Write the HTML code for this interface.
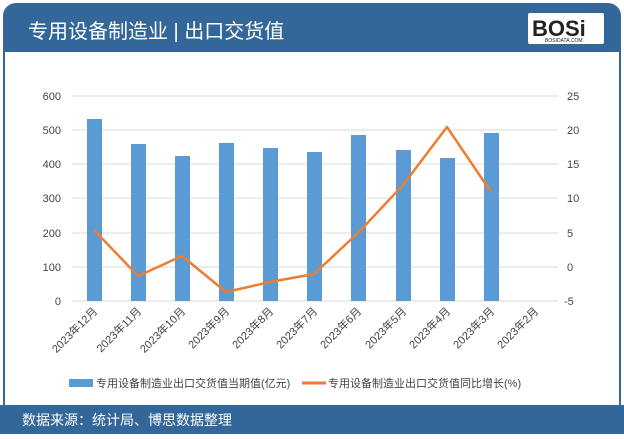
<!DOCTYPE html><html><head><meta charset="utf-8"><style>
body{margin:0;width:624px;height:434px;background:#fff;overflow:hidden;font-family:"Liberation Sans","Noto Sans CJK SC",sans-serif}
</style></head><body>
<svg width="624" height="434" xmlns="http://www.w3.org/2000/svg" font-family="Liberation Sans, Noto Sans CJK SC, sans-serif">
<rect x="0" y="0" width="624" height="434" fill="#fff"/>
<rect x="4" y="4" width="616" height="426" rx="12" fill="#fff" stroke="#3a679a" stroke-width="2"/>
<path d="M4 52 V16 A12 12 0 0 1 16 4 H608 A12 12 0 0 1 620 16 V52 Z" fill="#336699"/>
<text x="28" y="38" font-size="20" fill="#fff">专用设备制造业 | 出口交货值</text>
<rect x="528" y="13" width="76" height="31" fill="#fff" rx="2"/>
<text x="532" y="36" font-size="22" font-weight="bold" fill="#222">BOSi</text>
<text x="545" y="42" font-size="5" fill="#222">BOSIDATA.COM</text>
<rect x="0" y="405" width="624" height="29" fill="#336699"/>
<text x="22" y="425" font-size="14" fill="#fff">数据来源：统计局、博思数据整理</text>
<g stroke="#d9d9d9" stroke-width="1">
<line x1="72" y1="96" x2="558" y2="96"/><line x1="72" y1="130" x2="558" y2="130"/><line x1="72" y1="164" x2="558" y2="164"/><line x1="72" y1="198" x2="558" y2="198"/><line x1="72" y1="233" x2="558" y2="233"/><line x1="72" y1="267" x2="558" y2="267"/><line x1="72" y1="301" x2="558" y2="301"/>
</g>
<g font-size="11" fill="#444" text-anchor="end">
<text x="61" y="100">600</text><text x="61" y="134">500</text><text x="61" y="168">400</text><text x="61" y="202">300</text><text x="61" y="237">200</text><text x="61" y="271">100</text><text x="61" y="305">0</text>
</g>
<g font-size="11" fill="#444" text-anchor="start">
<text x="567" y="100">25</text><text x="567" y="134">20</text><text x="567" y="168">15</text><text x="567" y="202">10</text><text x="567" y="237">5</text><text x="567" y="271">0</text><text x="564" y="305">-5</text>
</g>
<g fill="#5b9bd5">
<rect x="87" y="119" width="15" height="182"/>
<rect x="131" y="144" width="15" height="157"/>
<rect x="175" y="156" width="15" height="145"/>
<rect x="219" y="143" width="15" height="158"/>
<rect x="263" y="148" width="15" height="153"/>
<rect x="307" y="152" width="15" height="149"/>
<rect x="351" y="135" width="15" height="166"/>
<rect x="396" y="150" width="15" height="151"/>
<rect x="440" y="158" width="15" height="143"/>
<rect x="484" y="133" width="15" height="168"/>
</g>
<polyline fill="none" stroke="#ed7d31" stroke-width="2.5" stroke-linejoin="round" points="94,230 138,276 182,256 226,292 270,282 314,274 358,233 403,185 447,127 491,192"/>
<g font-size="11" fill="#444" text-anchor="end">
<text transform="translate(98,312) rotate(-45)">2023年12月</text>
<text transform="translate(142,312) rotate(-45)">2023年11月</text>
<text transform="translate(186,312) rotate(-45)">2023年10月</text>
<text transform="translate(230,312) rotate(-45)">2023年9月</text>
<text transform="translate(274,312) rotate(-45)">2023年8月</text>
<text transform="translate(318,312) rotate(-45)">2023年7月</text>
<text transform="translate(362,312) rotate(-45)">2023年6月</text>
<text transform="translate(407,312) rotate(-45)">2023年5月</text>
<text transform="translate(451,312) rotate(-45)">2023年4月</text>
<text transform="translate(495,312) rotate(-45)">2023年3月</text>
<text transform="translate(539,312) rotate(-45)">2023年2月</text>
</g>
<rect x="69" y="379" width="24" height="8" fill="#5b9bd5"/>
<text x="96" y="387" font-size="11" fill="#444">专用设备制造业出口交货值当期值(亿元)</text>
<line x1="302" y1="383" x2="326" y2="383" stroke="#ed7d31" stroke-width="3"/>
<text x="328" y="387" font-size="11" fill="#444">专用设备制造业出口交货值同比增长(%)</text>
</svg>
</body></html>
